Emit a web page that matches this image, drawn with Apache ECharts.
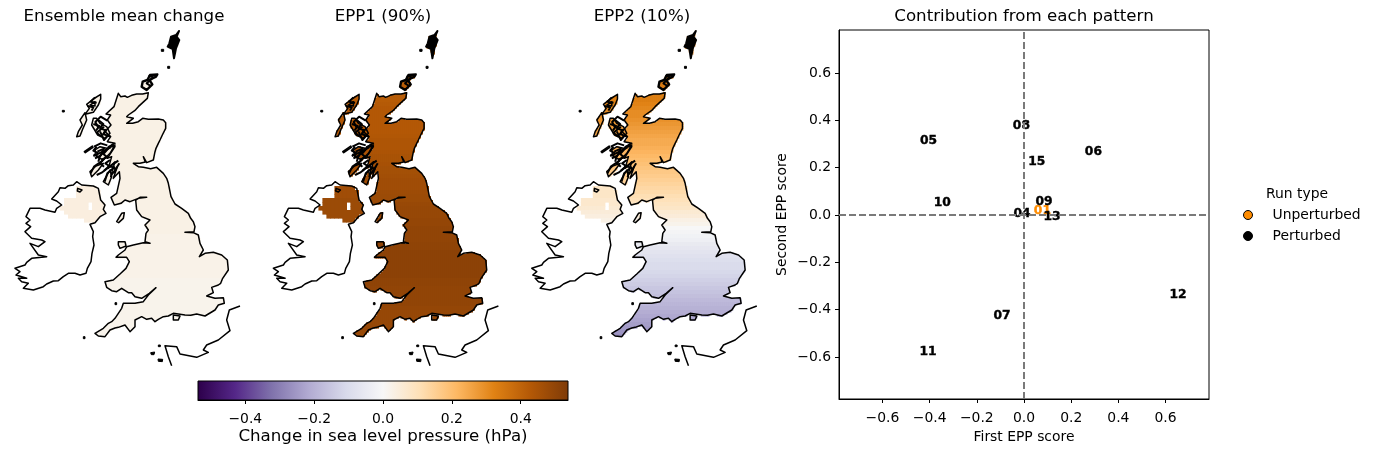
<!DOCTYPE html>
<html><head><meta charset="utf-8">
<style>html,body{margin:0;padding:0;background:#fff}#c{width:1376px;height:454px}</style>
<script src="https://cdn.jsdelivr.net/npm/echarts@6/dist/echarts.min.js"></script>
</head><body><div id="c"></div>
<script>
// Coast outlines in map units (x east, y south)
const greatBritain=[[355,280],[362,290],[375,288],[382,292],[395,286],[410,282],[428,282],[445,278],[442,295],[428,308],[415,320],[404,332],[385,345],[380,350],[400,355],[380,370],[398,370],[415,365],[428,355],[445,358],[475,357],[490,360],[497,368],[497,385],[487,405],[480,420],[475,430],[468,445],[465,455],[460,480],[440,488],[430,470],[436,486],[420,490],[400,490],[415,500],[430,502],[452,506],[470,502],[490,520],[500,535],[505,550],[510,575],[513,590],[525,612],[545,625],[565,640],[572,655],[580,665],[585,680],[582,695],[555,697],[580,698],[595,705],[600,730],[610,750],[598,770],[615,760],[640,757],[665,765],[682,780],[685,810],[668,835],[662,850],[655,855],[635,862],[640,878],[620,888],[645,895],[670,893],[673,910],[655,915],[645,930],[615,948],[590,942],[572,946],[555,945],[535,942],[520,940],[505,948],[490,950],[475,958],[465,965],[455,955],[440,958],[425,950],[405,960],[405,980],[390,995],[375,975],[355,982],[345,984],[330,990],[315,1010],[295,1008],[285,1000],[310,985],[325,970],[335,965],[345,955],[355,940],[365,925],[370,910],[405,910],[430,905],[445,885],[468,863],[448,880],[425,895],[405,890],[395,878],[385,878],[365,865],[350,875],[335,872],[320,862],[315,845],[340,840],[360,822],[378,805],[388,785],[380,772],[348,772],[355,765],[375,750],[380,740],[400,735],[430,728],[450,730],[435,725],[438,700],[445,690],[435,675],[450,660],[425,650],[410,630],[407,600],[420,592],[440,592],[415,595],[390,605],[375,600],[363,610],[343,615],[333,592],[350,580],[360,535],[358,515],[340,535],[352,500],[332,530],[345,485],[325,505],[335,470],[322,475],[345,440],[325,440],[345,430],[322,425],[332,410],[315,395],[333,375],[322,360],[332,345],[318,342],[342,320]];
const ireland=[[230,545],[220,555],[205,557],[195,565],[180,563],[175,575],[155,597],[170,603],[185,615],[170,625],[165,637],[135,630],[120,625],[90,625],[78,650],[90,660],[78,670],[92,680],[75,695],[95,715],[125,720],[135,725],[115,740],[90,730],[115,765],[140,770],[95,775],[80,787],[75,795],[45,805],[60,815],[48,825],[80,835],[55,835],[65,845],[85,850],[70,865],[100,870],[130,860],[140,852],[160,843],[175,842],[190,830],[205,820],[225,820],[240,825],[258,820],[262,805],[273,785],[276,760],[282,735],[278,710],[280,695],[270,673],[285,668],[300,650],[318,640],[310,628],[315,615],[302,600],[295,565],[280,558],[245,555]];
const foyle=[[233,565],[246,570],[240,576],[232,573]];
const shetlandA=[[537,93],[528,105],[513,110],[508,130],[503,140],[518,147],[522,175],[528,145],[538,120],[530,110]];
const orkney=[[472,223],[450,225],[442,240],[428,245],[425,260],[440,270],[457,253],[448,240],[468,230]];
const lewis=[[302,283],[280,297],[260,313],[268,325],[255,343],[280,337],[295,315],[302,297]];
const lewisLake=[[270,315],[285,305],[285,318]];
const uist=[[255,338],[240,360],[247,375],[235,395],[230,410],[240,408],[247,390],[260,360]];
const skye=[[280,355],[275,375],[293,405],[315,415],[330,400],[320,380],[300,370],[290,355]];
const tiree=[[253,455],[277,438],[279,442],[256,458]];
const mull=[[285,450],[290,470],[310,480],[330,460],[345,435],[320,445],[300,440]];
const islay=[[270,515],[275,530],[295,510],[310,490],[288,498]];
const kintyre=[[310,545],[330,510],[335,530],[325,555]];
const manx=[[350,665],[365,640],[373,638],[370,655],[356,668]];
const anglesey=[[355,725],[375,725],[378,738],[360,745],[355,735]];
const wight=[[520,945],[540,948],[535,960],[520,960]];
const thickIslands=[shetlandA,orkney];
const farIslets=[[[484,148],[491,148],[491,154],[484,154]],[[503,199],[509,199],[509,205],[503,205]],[[187,331],[193,331],[193,336],[187,336]],[[345,908],[350,908],[350,914],[345,914]],[[250,1010],[255,1010],[255,1016],[250,1016]],[[452,1058],[464,1056],[462,1064],[454,1064]],[[474,1077],[488,1078],[487,1085],[475,1084]],[[475,1035],[481,1035],[481,1040],[475,1040]]];
const franceCoast=[[720,918],[688,930],[680,960],[690,992],[655,1020],[620,1035],[610,1050],[625,1057],[590,1072],[540,1062],[530,1040],[495,1037],[505,1070],[515,1097]];
// Sea lochs and small islands of the west of Scotland
const westScribbles=[[[345,500],[322,520],[314,545]],[[355,482],[328,500],[305,518],[290,525]],[[340,432],[318,450],[296,472],[282,462]],[[332,442],[302,458],[280,468]],[[308,482],[282,500],[272,520]],[[322,362],[302,350],[286,366],[296,385]],[[312,380],[290,398],[305,410]],[[300,394],[312,420],[325,405]],[[330,410],[310,402],[318,388]],[[282,440],[302,430],[322,436]],[[292,455],[312,446],[300,470]],[[290,440],[280,452],[295,460]],[[350,510],[335,500],[322,500]],[[358,490],[340,520]],[[318,470],[300,490],[312,500]],[[295,360],[310,372],[300,384],[318,392],[308,405]],[[280,372],[298,378],[288,392]],[[325,445],[310,462],[322,472],[305,478]],[[285,475],[300,468],[295,485]],[[330,480],[316,490],[328,498],[312,512]],[[445,228],[460,232],[440,250],[452,258]],[[262,318],[280,322],[275,332]],[[285,292],[272,305],[290,308]]];
const northernIrelandMask=[[190,590],[225,590],[225,565],[265,558],[295,565],[302,600],[310,615],[312,638],[298,650],[285,665],[248,665],[248,652],[205,652],[205,640],[185,630]];
const niGap=[[266,606],[278,606],[278,630],[266,630]];

// Field values (hPa) read per grid row, north to south, rows 12 map units deep from y=90
const meanRows=[.03,.03,.03,.03,.03,.03,.03,.03,.03,.03,.03,.03,.03,.03,.03,.03,.03,.03,.03,.03,.03,.03,.03,.03,.03,.03,.03,.03,.03,.03,.03,.03,.03,.03,.03,.03,.03,.03,.03,.03,.03,.03,.03,.03,.03,.03,.03,.03,.03,.03,.03,.025,.025,.025,.025,.025,.025,.025,.025,.025,.025,.025,.02,.02,.02,.02,.02,.02,.02,.02,.02,.02,.02,.02,.02,.02,.02,.02];
const epp1Rows=[.40,.40,.40,.40,.40,.40,.405,.405,.41,.41,.41,.41,.415,.415,.415,.42,.42,.42,.425,.43,.43,.43,.43,.43,.43,.43,.435,.44,.44,.44,.445,.45,.45,.455,.46,.46,.465,.47,.47,.47,.475,.48,.48,.485,.49,.49,.49,.495,.495,.50,.50,.50,.50,.505,.505,.51,.51,.51,.51,.51,.51,.51,.505,.505,.50,.50,.50,.50,.50,.495,.49,.49,.49,.49,.49,.485,.48,.48];
const epp2Rows=[.37,.37,.37,.37,.36,.36,.36,.36,.35,.35,.35,.35,.35,.34,.34,.34,.33,.33,.32,.31,.30,.30,.29,.28,.27,.26,.25,.24,.24,.23,.22,.21,.20,.19,.18,.17,.16,.15,.14,.13,.12,.11,.10,.09,.08,.06,.05,.03,.02,0,-.01,-.02,-.03,-.05,-.06,-.07,-.08,-.09,-.10,-.10,-.11,-.12,-.13,-.14,-.15,-.16,-.17,-.18,-.19,-.20,-.21,-.22,-.23,-.24,-.25,-.26,-.27,-.27];
// Northern Ireland rows, from y=558
const niMean=[.04,.04,.04,.04,.04,.04,.04,.04,.04,.04];
const niEpp1=[.47,.47,.47,.48,.48,.48,.48,.48,.48,.48];
const niEpp2=[.08,.08,.08,.07,.07,.06,.05,.04,.03,.02];

// Scatter scores
const perturbedRuns=['04','05','06','07','08','09','10','11','12','13','15'];
const perturbedFirst=[-.008,-.405,.294,-.093,-.011,.085,-.346,-.407,.653,.119,.054];
const perturbedSecond=[.01,.317,.27,-.422,.38,.06,.055,-.574,-.334,-.003,.231];
const unperturbedRuns=['01'];
const unperturbedFirst=[.078];
const unperturbedSecond=[.02];
const scoreTicks=[-.6,-.4,-.2,0,.2,.4,.6];
const colourTicks=[-.4,-.2,0,.2,.4];
const panelTitles=['Ensemble mean change','EPP1 (90%)','EPP2 (10%)'];
const puOr=['#2d004b','#542788','#8073ac','#b2abd2','#d8daeb','#f7f7f7','#fee0b6','#fdb863','#e08214','#b35806','#7f3b08'];

const FONT='"DejaVu Sans"';
const polys=[greatBritain,ireland,foyle,lewis,lewisLake,uist,skye,tiree,mull,islay,kintyre,manx,anglesey,wight];
const flip=r=>r.map(p=>[p[0],-p[1]]);
const poly=(r,name)=>({type:'Feature',properties:{name},geometry:{type:'Polygon',coordinates:[flip(r.concat([r[0]]))]}});
const line=(r,name)=>({type:'Feature',properties:{name},geometry:{type:'LineString',coordinates:flip(r)}});
const features=polys.map((r,i)=>poly(r,'r'+i));
thickIslands.forEach((r,i)=>features.push(poly(r,'thick'+i)));
farIslets.forEach((r,i)=>features.push(poly(r,'dot'+i)));
westScribbles.forEach((r,i)=>features.push(line(r,'loch'+i)));
features.push(line(franceCoast,'fr'));
echarts.registerMap('isles',{type:'FeatureCollection',features});

function inside(r,x,y){let c=false;for(let i=0,j=r.length-1;i<r.length;j=i++){const a=r[i],b=r[j];if((a[1]>y)!==(b[1]>y)&&x<(b[0]-a[0])*(y-a[1])/(b[1]-a[1])+a[0])c=!c;}return c;}
const landRings=[greatBritain,shetlandA,orkney,lewis,uist,skye,mull,islay,kintyre,manx,anglesey,wight];
const ROW=12,NI=12,SUB=6;
function cells(rows,ni){const out=[];
  rows.forEach((v,i)=>{for(let k=0;k<ROW/SUB;k++){const y=90+i*ROW+k*SUB+SUB/2;
    for(let x=SUB/2;x<780;x+=SUB){if(landRings.some(r=>inside(r,x,y)))out.push([x,-y,v,SUB]);}}});
  ni.forEach((v,i)=>{const y=558+i*NI+NI/2;
    for(let x=NI/2;x<780;x+=NI){if(inside(northernIrelandMask,x,y)&&!inside(niGap,x,y))out.push([x,-y,v,NI]);}});
  return out;}
const fields=[cells(meanRows,niMean),cells(epp1Rows,niEpp1),cells(epp2Rows,niEpp2)];

const panelLeft=[0,258.4,516.8];
const regions=[{name:'thick0',itemStyle:{borderWidth:2,areaColor:'#000',borderColor:'#000'}},{name:'thick1',itemStyle:{borderWidth:2.4,areaColor:'transparent',borderColor:'#000'}},
  ...farIslets.map((r,i)=>({name:'dot'+i,itemStyle:{areaColor:'#000',borderColor:'#000',borderWidth:1}})),
  ...westScribbles.map((r,i)=>({name:'loch'+i,itemStyle:{borderColor:'#000',borderWidth:2,areaColor:'transparent'}}))];
const geos=panelLeft.map(l=>({map:'isles',left:l,top:0,width:260,height:380,aspectScale:1,boundingCoords:[[0,0],[780,-1140]],silent:true,z:5,roam:false,regions,
  itemStyle:{areaColor:'transparent',borderColor:'#000',borderWidth:1.5,borderJoin:'round'},label:{show:false},emphasis:{disabled:true}}));
const cellRender=(p,api)=>{const x=api.value(0),y=api.value(1),s=api.value(3)/2;const a=api.coord([x-s,y+s]),b=api.coord([x+s,y-s]);
  return {type:'rect',shape:{x:a[0],y:a[1],width:b[0]-a[0]+.6,height:b[1]-a[1]+.6},style:{fill:api.visual('color')}};};
const mapSeries=fields.map((d,k)=>({type:'custom',coordinateSystem:'geo',geoIndex:k,data:d,renderItem:cellRender,z:1,silent:true,progressive:0,encode:{lng:0,lat:1},dimensions:['x','y','v','s']}));

const CMAX=.5375;
const minusFmt=v=>v.toFixed(1).replace('-','\u2212');
const tickText={color:'#000',fontFamily:FONT,fontSize:13.9};
const axisBase={axisLine:{show:true,onZero:false,lineStyle:{color:'#000',width:1}},axisTick:{show:true,length:4,lineStyle:{color:'#000',width:1},customValues:scoreTicks},
  axisLabel:Object.assign({},tickText,{formatter:minusFmt,customValues:scoreTicks}),splitLine:{show:false},nameTextStyle:tickText};
const pts=(names,xs,ys)=>names.map((n,i)=>({name:n,value:[xs[i],ys[i]]}));
const scat=(name,color,data,extra)=>Object.assign({type:'scatter',name,xAxisIndex:0,yAxisIndex:0,data,symbol:'circle',symbolSize:.01,itemStyle:{color,opacity:0},z:4,
  label:{show:true,position:'inside',offset:[0,1],formatter:'{b}',color,fontFamily:FONT,fontWeight:'bold',fontSize:12.3,opacity:1,textBorderColor:color,textBorderWidth:.4},emphasis:{disabled:true}},extra||{});

const titleStyle={fontFamily:FONT,fontSize:16.67,fontWeight:'normal',color:'#000'};
const titles=panelTitles.map((t,i)=>({text:t,left:[119,378,637][i],top:3,textAlign:'center',textStyle:titleStyle}));
titles.push({text:'Contribution from each pattern',left:1019,top:3,textAlign:'center',textStyle:titleStyle});
titles.push({text:'Run type',left:1261,top:182,textStyle:{fontFamily:FONT,fontSize:13.9,fontWeight:'normal',color:'#000'}});

const option={animation:false,backgroundColor:'#fff',title:titles,geo:geos,
  visualMap:{show:false,type:'continuous',min:-CMAX,max:CMAX,dimension:2,seriesIndex:[0,1,2],inRange:{color:puOr}},
  grid:[{left:839,top:30,width:370,height:369,show:true,borderColor:'#000',borderWidth:1,backgroundColor:'transparent'},
        {left:198,top:381,width:370,height:19,show:true,borderColor:'#000',borderWidth:1,backgroundColor:'transparent',z:6}],
  xAxis:[Object.assign({},axisBase,{type:'value',gridIndex:0,min:-.784,max:.784,name:'First EPP score',nameLocation:'middle',nameGap:30,axisLabel:Object.assign({},axisBase.axisLabel,{margin:12})}),
    {type:'value',gridIndex:1,min:-CMAX,max:CMAX,z:7,axisLine:{show:true,onZero:false,lineStyle:{color:'#000'}},axisTick:{show:true,length:4,lineStyle:{color:'#000'},customValues:colourTicks},
     axisLabel:Object.assign({},tickText,{margin:12,formatter:minusFmt,customValues:colourTicks}),splitLine:{show:false},
     name:'Change in sea level pressure (hPa)',nameLocation:'middle',nameGap:28,nameTextStyle:{color:'#000',fontFamily:FONT,fontSize:16.67}}],
  yAxis:[Object.assign({},axisBase,{type:'value',gridIndex:0,min:-.778,max:.782,name:'Second EPP score',nameLocation:'middle',nameGap:50,axisLabel:Object.assign({},axisBase.axisLabel,{margin:8})}),
    {type:'value',gridIndex:1,min:0,max:1,show:false}],
  legend:{orient:'vertical',left:1238,top:203,itemWidth:9,itemHeight:9,itemGap:7,icon:'circle',selectedMode:false,
    textStyle:{fontFamily:FONT,fontSize:13.9,color:'#000',padding:[0,0,0,15]},
    data:[{name:'Unperturbed',itemStyle:{color:'#ff8c00',borderColor:'#000',borderWidth:1,opacity:1}},{name:'Perturbed',itemStyle:{color:'#000',borderColor:'#000',borderWidth:1,opacity:1}}]},
  series:mapSeries.concat([
    scat('Unperturbed','#ff8c00',pts(unperturbedRuns,unperturbedFirst,unperturbedSecond)),
    scat('Perturbed','#000',pts(perturbedRuns,perturbedFirst,perturbedSecond),{markLine:{silent:true,symbol:'none',animation:false,label:{show:false},lineStyle:{color:'#7a7a7a',type:[7,3],width:2},data:[{xAxis:0},{yAxis:0}]}}),
    {type:'custom',xAxisIndex:1,yAxisIndex:1,coordinateSystem:'cartesian2d',silent:true,z:2,data:[[-CMAX,CMAX]],encode:{x:[0,1]},
     renderItem:(p,api)=>{const a=api.coord([api.value(0),1]),b=api.coord([api.value(1),0]);
       return {type:'rect',shape:{x:a[0],y:a[1],width:b[0]-a[0],height:b[1]-a[1]},
         style:{fill:new echarts.graphic.LinearGradient(0,0,1,0,puOr.map((c,i)=>({offset:i/(puOr.length-1),color:c})))}};}}
  ])};
echarts.init(document.getElementById('c'),null,{renderer:'canvas'}).setOption(option);
</script></body></html>
